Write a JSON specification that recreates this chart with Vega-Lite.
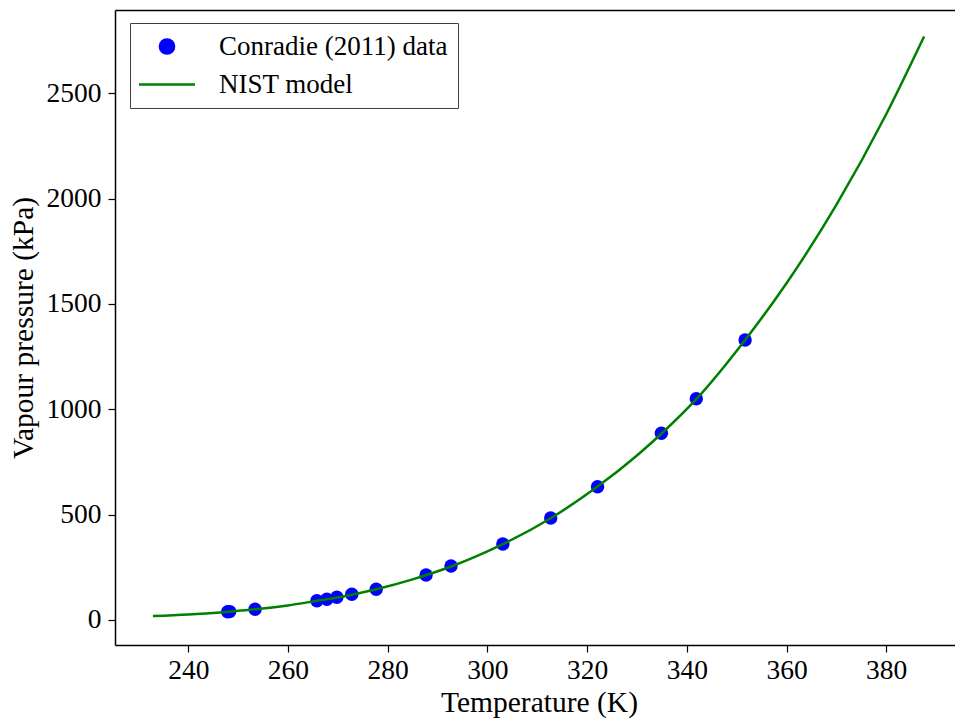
{
  "$schema": "https://vega.github.io/schema/vega-lite/v6.json",
  "width": 840,
  "height": 635,
  "autosize": {"type": "none"},
  "padding": {"left": 115, "top": 10, "right": 0, "bottom": 77},
  "background": "white",
  "config": {
    "font": "Liberation Serif",
    "view": {"stroke": null},
    "axis": {
      "domainColor": "black", "domainWidth": 1.5,
      "tickColor": "black", "tickWidth": 1.2, "tickSize": 7,
      "labelFont": "Liberation Serif", "labelFontSize": 27.5, "labelColor": "black",
      "titleFont": "Liberation Serif", "titleFontSize": 29.5, "titleFontWeight": "normal", "titleColor": "black",
      "grid": false, "labelFlush": false, "labelOverlap": false
    }
  },
  "datasets": {
    "points": [
      {"T": 247.9, "P": 38.8, "series": "Conradie (2011) data"},
      {"T": 248.3, "P": 39.8, "series": "Conradie (2011) data"},
      {"T": 253.4, "P": 50.8, "series": "Conradie (2011) data"},
      {"T": 265.8, "P": 91.6, "series": "Conradie (2011) data"},
      {"T": 267.8, "P": 98.2, "series": "Conradie (2011) data"},
      {"T": 269.8, "P": 107.7, "series": "Conradie (2011) data"},
      {"T": 272.8, "P": 122, "series": "Conradie (2011) data"},
      {"T": 277.7, "P": 145.7, "series": "Conradie (2011) data"},
      {"T": 287.7, "P": 213.6, "series": "Conradie (2011) data"},
      {"T": 292.7, "P": 256, "series": "Conradie (2011) data"},
      {"T": 303.1, "P": 360.7, "series": "Conradie (2011) data"},
      {"T": 312.7, "P": 484, "series": "Conradie (2011) data"},
      {"T": 322.1, "P": 632.7, "series": "Conradie (2011) data"},
      {"T": 334.9, "P": 886, "series": "Conradie (2011) data"},
      {"T": 341.9, "P": 1050, "series": "Conradie (2011) data"},
      {"T": 351.7, "P": 1329, "series": "Conradie (2011) data"}
    ],
    "curve": [
      {"T": 232.9, "P": 18.5, "series": "NIST model"},
      {"T": 240, "P": 26, "series": "NIST model"},
      {"T": 248, "P": 39.5, "series": "NIST model"},
      {"T": 253.4, "P": 50.5, "series": "NIST model"},
      {"T": 260, "P": 69, "series": "NIST model"},
      {"T": 265.8, "P": 91, "series": "NIST model"},
      {"T": 270, "P": 107, "series": "NIST model"},
      {"T": 277.7, "P": 146, "series": "NIST model"},
      {"T": 285, "P": 193, "series": "NIST model"},
      {"T": 292.7, "P": 254, "series": "NIST model"},
      {"T": 300, "P": 326, "series": "NIST model"},
      {"T": 303.1, "P": 360, "series": "NIST model"},
      {"T": 312.7, "P": 483, "series": "NIST model"},
      {"T": 322.1, "P": 633, "series": "NIST model"},
      {"T": 330, "P": 781, "series": "NIST model"},
      {"T": 334.9, "P": 884, "series": "NIST model"},
      {"T": 341.9, "P": 1048, "series": "NIST model"},
      {"T": 351.7, "P": 1329, "series": "NIST model"},
      {"T": 360, "P": 1598, "series": "NIST model"},
      {"T": 370, "P": 1970, "series": "NIST model"},
      {"T": 380, "P": 2400, "series": "NIST model"},
      {"T": 387.6, "P": 2769, "series": "NIST model"}
    ]
  },
  "encoding": {
    "y": {
      "field": "P", "type": "quantitative",
      "scale": {"domain": [-118.7, 2895], "nice": false, "zero": false},
      "axis": {"title": "Vapour pressure (kPa)", "format": "d", "values": [0, 500, 1000, 1500, 2000, 2500], "labelPadding": 7, "titlePadding": 8}
    },
    "color": {
      "field": "series", "type": "nominal",
      "scale": {"domain": ["Conradie (2011) data", "NIST model"], "range": ["#0000ff", "#008000"]},
      "legend": {
        "orient": "none", "legendX": 15, "legendY": 13, "title": null,
        "labelFont": "Liberation Serif", "labelFontSize": 27, "labelColor": "black", "labelLimit": 500,
        "strokeColor": "#404040", "fillColor": "white", "padding": 10, "rowPadding": 10,
        "labelOffset": 52, "symbolStrokeWidth": 2.5, "symbolSize": 3136,
        "encode": {
          "symbols": {
            "update": {
              "x": {"value": 27},
              "shape": {"signal": "datum.value === 'NIST model' ? 'stroke' : 'circle'"},
              "size": {"signal": "datum.value === 'NIST model' ? 3136 : 200"},
              "fill": {"signal": "datum.value === 'NIST model' ? 'transparent' : '#0000ff'"},
              "stroke": {"signal": "datum.value === 'NIST model' ? '#008000' : 'transparent'"},
              "strokeWidth": {"value": 2.5},
              "opacity": {"value": 1}
            }
          }
        }
      }
    }
  },
  "resolve": {"axis": {"x": "independent"}},
  "layer": [
    {
      "data": {"name": "points"},
      "mark": {"type": "point", "filled": true, "opacity": 1, "size": 180},
      "encoding": {
        "x": {
          "field": "T", "type": "quantitative",
          "scale": {"domain": [225.3, 393.8], "nice": false, "zero": false},
          "axis": {"title": "Temperature (K)", "format": "d", "values": [240, 260, 280, 300, 320, 340, 360, 380], "labelPadding": 4, "titlePadding": 5, "titleX": 424}
        }
      }
    },
    {
      "data": {"name": "curve"},
      "mark": {"type": "line", "strokeWidth": 2.5, "interpolate": "monotone"},
      "encoding": {
        "x": {
          "field": "T", "type": "quantitative",
          "scale": {"domain": [225.3, 393.8], "nice": false, "zero": false},
          "axis": {"orient": "top", "title": null, "labels": false, "ticks": false, "domain": true}
        }
      }
    }
  ]
}
